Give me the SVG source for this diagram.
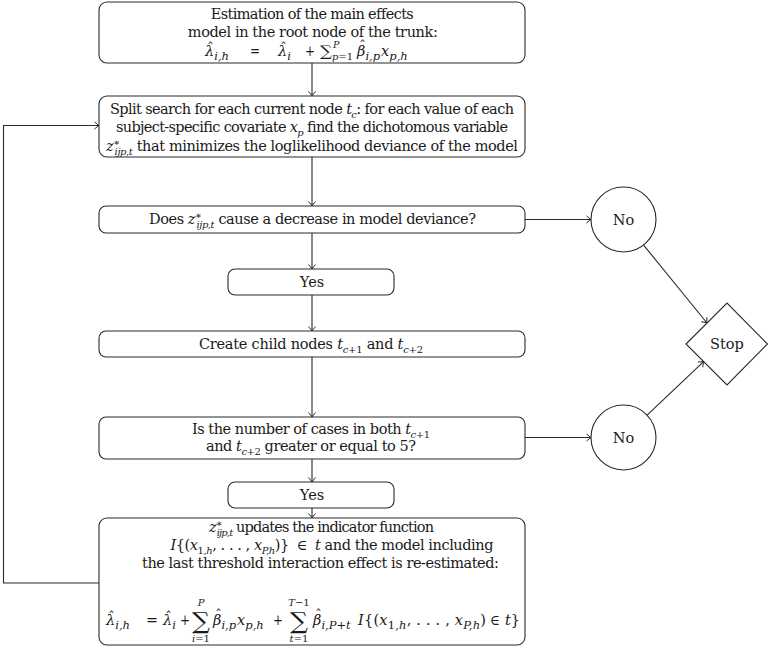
<svg xmlns="http://www.w3.org/2000/svg" width="768" height="648" viewBox="0 0 768 648">
<style>
.box{fill:#fff;stroke:#2a2a2a;stroke-width:1.1}
.t{font-family:"DejaVu Serif","Liberation Serif","Noto Serif",serif;font-size:14.5px;fill:#1a1a1a;text-anchor:middle}
.l{text-anchor:start}
.i{font-style:italic}
.s{font-size:10px}
.m{font-size:11.5px}
.ss{font-size:9.5px}
.big{font-size:23px}
.hat{font-size:13px}
.c{fill:none;stroke:#2a2a2a;stroke-width:1.1}
</style>
<defs>
<marker id="ah" markerUnits="userSpaceOnUse" markerWidth="12" markerHeight="12" viewBox="-6 -6 12 12" refX="0" refY="0" orient="auto">
<path d="M-4.5,-3.6 Q-1.6,-0.9 0,0 Q-1.6,0.9 -4.5,3.6" fill="none" stroke="#2a2a2a" stroke-width="1"/>
</marker>
</defs>

<g id="connectors">
<line class="c" x1="312" y1="63" x2="312" y2="96" marker-end="url(#ah)"/>
<line class="c" x1="312" y1="157" x2="312" y2="206" marker-end="url(#ah)"/>
<line class="c" x1="312" y1="233" x2="312" y2="269" marker-end="url(#ah)"/>
<line class="c" x1="312" y1="295" x2="312" y2="331" marker-end="url(#ah)"/>
<line class="c" x1="312" y1="357" x2="312" y2="417" marker-end="url(#ah)"/>
<line class="c" x1="312" y1="459" x2="312" y2="482" marker-end="url(#ah)"/>
<line class="c" x1="312" y1="508" x2="312" y2="518" marker-end="url(#ah)"/>
<line class="c" x1="525" y1="219.5" x2="591" y2="219.5" marker-end="url(#ah)"/>
<line class="c" x1="525" y1="437.5" x2="591" y2="437.5" marker-end="url(#ah)"/>
<line class="c" x1="643.6" y1="245.1" x2="707" y2="323" marker-end="url(#ah)"/>
<line class="c" x1="647.1" y1="415.1" x2="703.6" y2="361.6" marker-end="url(#ah)"/>
<polyline class="c" points="99,583 3.5,583 3.5,125.5 99,125.5" marker-end="url(#ah)"/>
</g>

<g id="n_root">
<rect class="box" x="99" y="2" width="426" height="61" rx="8"/>
<text class="t" x="312.3" y="19" textLength="203" lengthAdjust="spacing">Estimation of the main effects</text>
<text class="t" x="312.8" y="37" textLength="250" lengthAdjust="spacing">model in the root node of the trunk:</text>
<text class="t l" x="205" y="56"><tspan class="i">λ</tspan><tspan class="m i" baseline-shift="-4">i,h</tspan></text>
<text class="t hat" x="210.5" y="52">ˆ</text>
<text class="t l" x="250" y="56" textLength="10" lengthAdjust="spacingAndGlyphs">=</text>
<text class="t l" x="278" y="56"><tspan class="i">λ</tspan><tspan class="m i" baseline-shift="-4">i</tspan></text>
<text class="t hat" x="283.5" y="52">ˆ</text>
<text class="t l" x="305" y="56" textLength="10" lengthAdjust="spacingAndGlyphs">+</text>
<text class="t l" x="320" y="56" textLength="12" lengthAdjust="spacingAndGlyphs">∑</text>
<text class="t l ss i" x="333" y="48">P</text>
<text class="t l ss" x="332" y="60" textLength="21" lengthAdjust="spacingAndGlyphs"><tspan class="i">p</tspan>=1</text>
<text class="t l" x="357" y="56"><tspan class="i">β</tspan><tspan class="m i" baseline-shift="-4">i,p</tspan><tspan class="i" dx="1">x</tspan><tspan class="m i" baseline-shift="-4">p,h</tspan></text>
<text class="t hat" x="362.5" y="50">ˆ</text>
</g>

<g id="n_split">
<rect class="box" x="99" y="96" width="426" height="61" rx="8"/>
<text class="t" x="312" y="114" textLength="404" lengthAdjust="spacing">Split search for each current node <tspan class="i">t</tspan><tspan class="s i" baseline-shift="-4">c</tspan>: for each value of each</text>
<text class="t" x="312" y="132" textLength="392" lengthAdjust="spacing">subject-specific covariate <tspan class="i">x</tspan><tspan class="s i" baseline-shift="-4">p</tspan> find the dichotomous variable</text>
<text class="t" x="312" y="151" textLength="412" lengthAdjust="spacing"><tspan class="i">z</tspan><tspan class="s" baseline-shift="5">∗</tspan><tspan class="s i" dx="-5" baseline-shift="-4">ijp,t</tspan> that minimizes the loglikelihood deviance of the model</text>
</g>

<g id="n_does">
<rect class="box" x="99" y="206" width="426" height="27" rx="7"/>
<text class="t" x="312.5" y="224" textLength="327" lengthAdjust="spacing">Does <tspan class="i">z</tspan><tspan class="s" baseline-shift="5">∗</tspan><tspan class="s i" dx="-5" baseline-shift="-4">ijp,t</tspan> cause a decrease in model deviance?</text>
</g>

<g id="n_yes1">
<rect class="box" x="228" y="269" width="166" height="26" rx="7"/>
<text class="t" x="312" y="287">Yes</text>
</g>

<g id="n_create">
<rect class="box" x="99" y="331" width="426" height="26" rx="7"/>
<text class="t" x="311" y="349" textLength="224" lengthAdjust="spacing">Create child nodes <tspan class="i">t</tspan><tspan class="s" baseline-shift="-4"><tspan class="i">c</tspan>+1</tspan> and <tspan class="i">t</tspan><tspan class="s" baseline-shift="-4"><tspan class="i">c</tspan>+2</tspan></text>
</g>

<g id="n_cases">
<rect class="box" x="99" y="417" width="426" height="42" rx="7"/>
<text class="t" x="311" y="434" textLength="238" lengthAdjust="spacing">Is the number of cases in both <tspan class="i">t</tspan><tspan class="s" baseline-shift="-4"><tspan class="i">c</tspan>+1</tspan></text>
<text class="t" x="311" y="451" textLength="210" lengthAdjust="spacing">and <tspan class="i">t</tspan><tspan class="s" baseline-shift="-4"><tspan class="i">c</tspan>+2</tspan> greater or equal to 5?</text>
</g>

<g id="n_yes2">
<rect class="box" x="228" y="482" width="166" height="26" rx="7"/>
<text class="t" x="312" y="500">Yes</text>
</g>

<g id="n_update">
<rect class="box" x="99" y="518" width="426" height="127" rx="8"/>
<text class="t" x="321.5" y="532" textLength="225" lengthAdjust="spacing"><tspan class="i">z</tspan><tspan class="s" baseline-shift="5">∗</tspan><tspan class="s i" dx="-5" baseline-shift="-4">ijp,t</tspan> updates the indicator function</text>
<text class="t" x="332" y="550" textLength="323" lengthAdjust="spacing"><tspan class="i">I</tspan>{(<tspan class="i">x</tspan><tspan class="s" baseline-shift="-4">1,<tspan class="i">h</tspan></tspan>, . . . , <tspan class="i">x</tspan><tspan class="s i" baseline-shift="-4">P,h</tspan>)}<tspan dx="8">∈</tspan><tspan class="i" dx="8">t</tspan> and the model including</text>
<text class="t" x="320.5" y="568" textLength="357" lengthAdjust="spacing">the last threshold interaction effect is re-estimated:</text>

<text class="t l" x="106" y="625"><tspan class="i">λ</tspan><tspan class="m i" baseline-shift="-4">i,h</tspan></text>
<text class="t hat" x="111.5" y="621">ˆ</text>
<text class="t l" x="146" y="625" textLength="12" lengthAdjust="spacingAndGlyphs">=</text>
<text class="t l" x="163" y="625"><tspan class="i">λ</tspan><tspan class="m i" baseline-shift="-4">i</tspan></text>
<text class="t hat" x="168.5" y="621">ˆ</text>
<text class="t l" x="180" y="625" textLength="10" lengthAdjust="spacingAndGlyphs">+</text>
<text class="t big" x="201" y="629" textLength="18" lengthAdjust="spacingAndGlyphs">∑</text>
<text class="t s i" x="201" y="606">P</text>
<text class="t s" x="201" y="642"><tspan class="i">i</tspan>=1</text>
<text class="t l" x="213" y="625"><tspan class="i">β</tspan><tspan class="m i" baseline-shift="-4">i,p</tspan><tspan class="i" dx="1">x</tspan><tspan class="m i" baseline-shift="-4">p,h</tspan></text>
<text class="t hat" x="218.5" y="619">ˆ</text>
<text class="t l" x="273" y="625" textLength="10" lengthAdjust="spacingAndGlyphs">+</text>
<text class="t big" x="299" y="629" textLength="18" lengthAdjust="spacingAndGlyphs">∑</text>
<text class="t s" x="299" y="606"><tspan class="i">T</tspan>−1</text>
<text class="t s" x="299" y="642"><tspan class="i">t</tspan>=1</text>
<text class="t l" x="313" y="625"><tspan class="i">β</tspan><tspan class="m" baseline-shift="-4"><tspan class="i">i,P</tspan>+<tspan class="i">t</tspan></tspan></text>
<text class="t hat" x="318.5" y="619">ˆ</text>
<text class="t l" x="358" y="625" textLength="128" lengthAdjust="spacing"><tspan class="i">I</tspan>{(<tspan class="i">x</tspan><tspan class="m" baseline-shift="-4">1,<tspan class="i">h</tspan></tspan>, . . . , <tspan class="i">x</tspan><tspan class="m i" baseline-shift="-4">P,h</tspan>)</text>
<text class="t l" x="490" y="625" textLength="10" lengthAdjust="spacingAndGlyphs">∈</text>
<text class="t l" x="505" y="625"><tspan class="i">t</tspan>}</text>
</g>

<g id="n_no1">
<circle class="box" cx="623.5" cy="219.5" r="32.5"/>
<text class="t" x="623.5" y="225">No</text>
</g>
<g id="n_no2">
<circle class="box" cx="623.5" cy="437.5" r="32.5"/>
<text class="t" x="623.5" y="443">No</text>
</g>
<g id="n_stop">
<polygon class="box" points="686,344 727,303 767.5,344 727,385"/>
<text class="t" x="727" y="349">Stop</text>
</g>
</svg>
